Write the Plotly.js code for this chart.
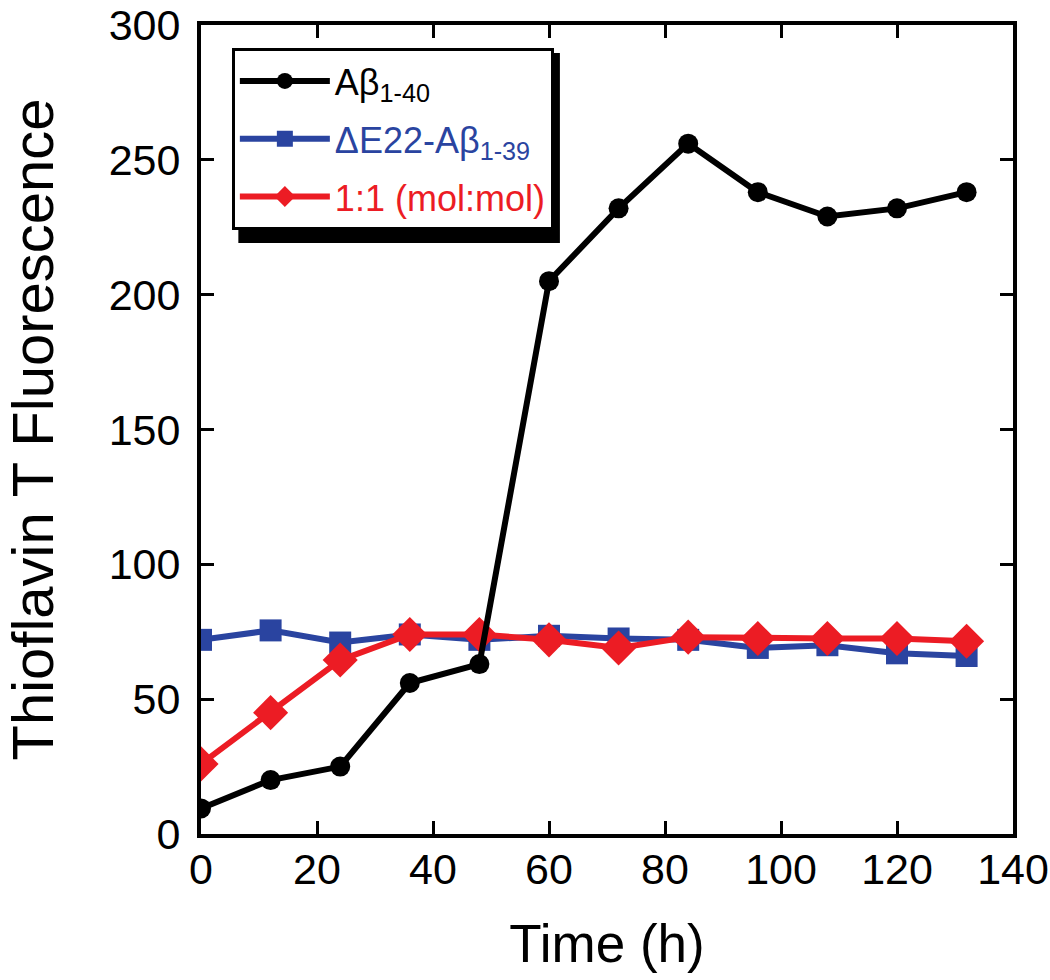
<!DOCTYPE html>
<html>
<head>
<meta charset="utf-8">
<script src="https://cdn.plot.ly/plotly-3.0.1.min.js"></script>
<style>html,body{margin:0;padding:0;background:#fff;}</style>
</head>
<body>
<div id="chart" style="width:1050px;height:980px;"></div>
<script>
const timeH = [0, 12, 24, 36, 48, 60, 72, 84, 96, 108, 120, 132];
const abeta140 = [9.5, 20, 25, 56, 63, 205, 232, 256, 238, 229, 232, 238];
const dE22abeta139 = [72, 75.5, 71, 74, 72, 73.5, 72.5, 72, 69, 70, 67, 66];
const mixed11 = [26, 45, 64.5, 74, 74, 72, 69, 73, 72.5, 72.5, 72.5, 71.5];

const names = [
  'Aβ<sub>1-40</sub>',
  '<span style="color:#2a44a0">ΔE22-Aβ<sub>1-39</sub></span>',
  '<span style="color:#ec1c24">1:1 (mol:mol)</span>'
];

const traces = [
  {x: timeH, y: dE22abeta139, name: names[1], legendrank: 2, legendgroup: 'b', mode: 'lines+markers',
   line: {color: '#2a44a0', width: 6}, marker: {symbol: 'square', size: 22, color: '#2a44a0'}},
  {x: timeH, y: mixed11, name: names[2], legendrank: 3, legendgroup: 'c', mode: 'lines+markers',
   line: {color: '#ec1c24', width: 6}, marker: {symbol: 'diamond', size: 27, color: '#ec1c24'}},
  {x: timeH, y: abeta140, name: names[0], legendrank: 1, legendgroup: 'a', mode: 'lines+markers',
   line: {color: '#000000', width: 6}, marker: {symbol: 'circle', size: 20, color: '#000000'}}
];

const font = 'Liberation Sans, Arial, Helvetica, sans-serif';
const layout = {
  width: 1050, height: 980,
  margin: {l: 201, r: 37, t: 25, b: 146},
  paper_bgcolor: '#fff', plot_bgcolor: '#fff',
  font: {family: font, color: '#000', size: 42},
  showlegend: true,
  legend: {
    x: 0.038, y: 0.9716, xanchor: 'left', yanchor: 'top',
    bgcolor: '#fff', bordercolor: '#000', borderwidth: 3,
    font: {family: font, size: 36, color: '#000'},
    itemwidth: 90, tracegroupgap: 8
  },
  xaxis: {
    range: [0, 140], tickvals: [0, 20, 40, 60, 80, 100, 120, 140],
    ticks: 'inside', ticklen: 13, tickwidth: 3, tickcolor: '#000',
    showline: true, linewidth: 4, linecolor: '#000', mirror: 'ticks',
    showgrid: false, zeroline: false,
    tickfont: {size: 43}, ticklabelstandoff: -6,
    title: {text: 'Time (h)', font: {size: 53}, standoff: 34}
  },
  yaxis: {
    range: [0, 300], tickvals: [0, 50, 100, 150, 200, 250, 300],
    ticks: 'inside', ticklen: 13, tickwidth: 3, tickcolor: '#000',
    showline: true, linewidth: 4, linecolor: '#000', mirror: 'ticks',
    showgrid: false, zeroline: false,
    tickfont: {size: 43}, ticklabelstandoff: 8,
    title: {text: 'Thioflavin T Fluorescence', font: {size: 58}, standoff: 52}
  },
  shapes: [
    {type: 'rect', xref: 'paper', yref: 'paper', layer: 'above',
     x0: 0.046, x1: 0.442, y0: 0.7305, y1: 0.9654,
     fillcolor: '#000', line: {width: 0}}
  ]
};

Plotly.newPlot('chart', traces, layout, {displayModeBar: false, staticPlot: true});
</script>
</body>
</html>
